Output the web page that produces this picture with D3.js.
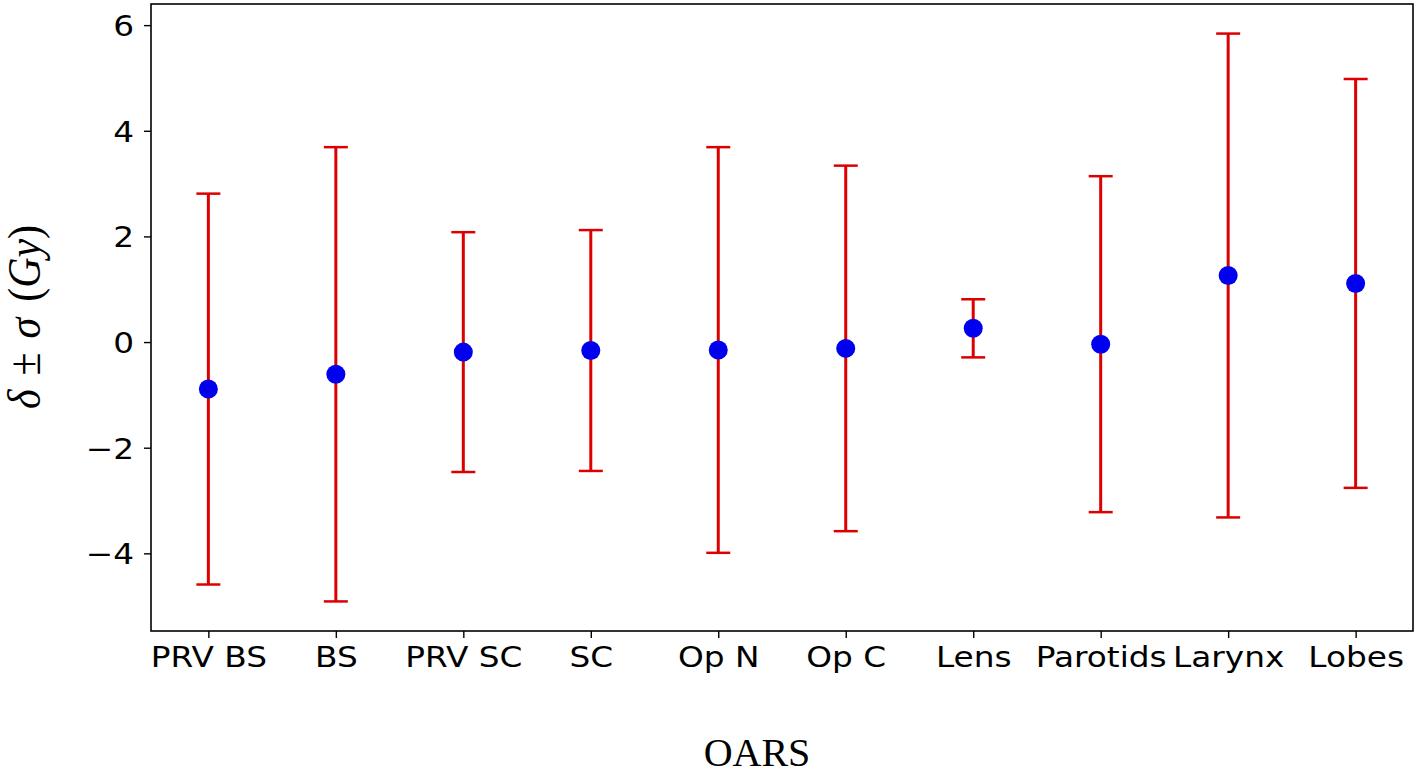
<!DOCTYPE html>
<html><head><meta charset="utf-8">
<script src="https://cdn.jsdelivr.net/npm/d3@7"></script>
<style>body{margin:0;background:#fff}</style>
</head><body>
<svg id="c" width="1418" height="776"></svg>
<script>
const categories = ["PRV BS","BS","PRV SC","SC","Op N","Op C","Lens","Parotids","Larynx","Lobes"];
const means  = [-0.89,-0.61,-0.19,-0.16,-0.15,-0.12,0.26,-0.04,1.26,1.11];
const sigmas = [3.70,4.30,2.27,2.28,3.84,3.46,0.55,3.18,4.58,3.87];
const yTicks = [-4,-2,0,2,4,6];

const svg = d3.select("#c");
const L=151, R=1413, T=4, B=631;
const x = d3.scaleLinear().domain([-0.45, 9.45]).range([L,R]);
const y = d3.scaleLinear().domain([-5.47, 6.4]).range([B,T]);
const data = categories.map((c,i)=>({c,i,m:means[i],s:sigmas[i]}));
const red="#dd0000";

const g = svg.append("g");
// error bars
g.selectAll("line.eb").data(data).enter().append("line")
 .attr("x1",d=>x(d.i)).attr("x2",d=>x(d.i))
 .attr("y1",d=>y(d.m-d.s)).attr("y2",d=>y(d.m+d.s))
 .attr("stroke",red).attr("stroke-width",3);
["lo","hi"].forEach(k=>{
 g.selectAll("line.cap"+k).data(data).enter().append("line")
  .attr("x1",d=>x(d.i)-12).attr("x2",d=>x(d.i)+12)
  .attr("y1",d=>y(k=="lo"?d.m-d.s:d.m+d.s)).attr("y2",d=>y(k=="lo"?d.m-d.s:d.m+d.s))
  .attr("stroke",red).attr("stroke-width",2.5);
});
g.selectAll("circle").data(data).enter().append("circle")
 .attr("cx",d=>x(d.i)).attr("cy",d=>y(d.m)).attr("r",9.5).attr("fill","#0000ee");

// frame
svg.append("rect").attr("x",L).attr("y",T).attr("width",R-L).attr("height",B-T)
 .attr("fill","none").attr("stroke","#000").attr("stroke-width",1.6);

// axes
const xa = svg.append("g").attr("transform",`translate(0,${B})`)
 .call(d3.axisBottom(x).tickValues(d3.range(categories.length)).tickFormat(i=>categories[i]).tickSize(7).tickPadding(8));
const ya = svg.append("g").attr("transform",`translate(${L},0)`)
 .call(d3.axisLeft(y).tickValues(yTicks).tickFormat(v=>v<0?"\u2212"+Math.abs(v):v).tickSize(7).tickPadding(8));
[xa,ya].forEach(a=>{
 a.select(".domain").remove();
 a.selectAll(".tick line").attr("stroke","#000").attr("stroke-width",1.4);
 a.selectAll("text").attr("font-family","DejaVu Sans").attr("font-size",29).attr("fill","#000");
});
xa.selectAll(".tick text").attr("dy","0.71em").attr("transform","scale(1.13,1)");
ya.selectAll(".tick text").attr("transform","scale(1.13,1)").attr("dy","0.36em");

// axis titles
svg.append("text").attr("x",757).attr("y",766).attr("text-anchor","middle")
 .attr("font-family","Liberation Serif").attr("font-size",40).text("OARS");
const yl = svg.append("text").attr("transform","translate(40,317) rotate(-90) scale(1,1.1)")
 .attr("text-anchor","middle").attr("font-family","Liberation Serif").attr("font-size",42);
yl.append("tspan").attr("font-style","italic").text("δ");
yl.append("tspan").attr("dx",14).text("±");
yl.append("tspan").attr("dx",14).attr("font-style","italic").text("σ");
yl.append("tspan").attr("dx",16).text("(");
yl.append("tspan").attr("font-style","italic").text("Gy");
yl.append("tspan").text(")");
</script>
</body></html>
